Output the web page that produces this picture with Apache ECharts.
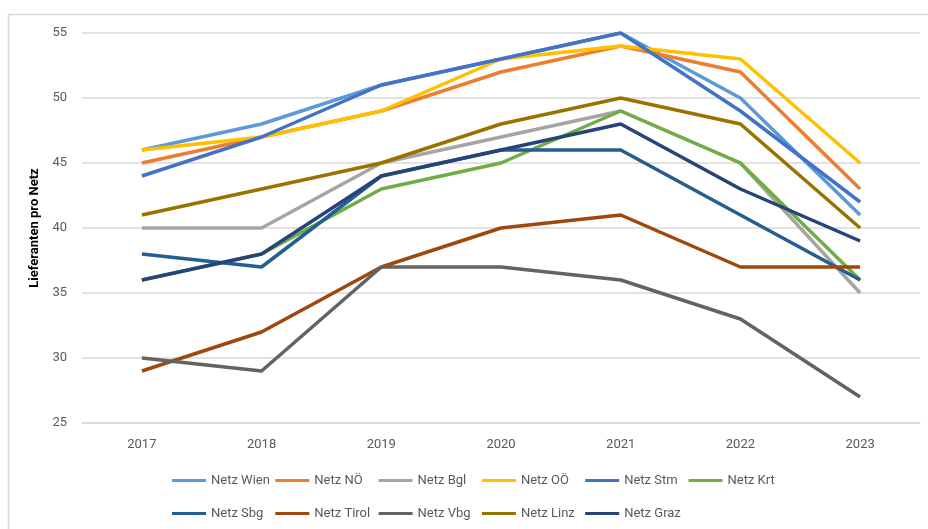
<!DOCTYPE html>
<html>
<head>
<meta charset="utf-8">
<script src="https://cdn.jsdelivr.net/npm/echarts@6/dist/echarts.min.js"></script>
<style>
  html, body { margin: 0; padding: 0; background: #fff; }
  #chart { width: 928px; height: 529px; }
</style>
</head>
<body>
<div id="chart"></div>
<script>
// Jahre
var years = ['2017', '2018', '2019', '2020', '2021', '2022', '2023']

// Lieferanten pro Netz
var netzWien  = [46, 48, 51, 53, 55, 50, 41]
var netzNoe   = [45, 47, 49, 52, 54, 52, 43]
var netzBgl   = [40, 40, 45, 47, 49, 45, 35]
var netzOoe   = [46, 47, 49, 53, 54, 53, 45]
var netzStm   = [44, 47, 51, 53, 55, 49, 42]
var netzKrt   = [36, 38, 43, 45, 49, 45, 36]
var netzSbg   = [38, 37, 44, 46, 46, 41, 36]
var netzTirol = [29, 32, 37, 40, 41, 37, 37]
var netzVbg   = [30, 29, 37, 37, 36, 33, 27]
var netzLinz  = [41, 43, 45, 48, 50, 48, 40]
var netzGraz  = [36, 38, 44, 46, 48, 43, 39]

var seriesNames = ['Netz Wien', 'Netz NÖ', 'Netz Bgl', 'Netz OÖ', 'Netz Stm', 'Netz Krt',
  'Netz Sbg', 'Netz Tirol', 'Netz Vbg', 'Netz Linz', 'Netz Graz']
var seriesData = [netzWien, netzNoe, netzBgl, netzOoe, netzStm, netzKrt,
  netzSbg, netzTirol, netzVbg, netzLinz, netzGraz]
var colors = ['#5B9BD5', '#ED7D31', '#A5A5A5', '#FFC000', '#4472C4', '#70AD47',
  '#255E91', '#9E480E', '#636363', '#997300', '#264478']

var font = 'Roboto, "Open Sans", sans-serif'

var chart = echarts.init(document.getElementById('chart'))

// one legend per item so the columns line up like in the original
var legends = seriesNames.map(function (name, i) {
  var col = i % 6
  var row = Math.floor(i / 6)
  return {
    left: 167 + col * 103.3,
    top: row === 0 ? 469 : 502,
    itemWidth: 34,
    itemHeight: 3,
    icon: 'rect',
    data: [name],
    textStyle: { color: '#595959', fontSize: 13, fontFamily: font }
  }
})

chart.setOption({
  color: colors,
  animation: false,
  graphic: [{
    type: 'rect',
    left: 6, top: 12,
    shape: { width: 960, height: 560 },
    style: { fill: 'none', stroke: '#d9d9d9', lineWidth: 1.5 },
    silent: true
  }],
  legend: legends,
  grid: {
    left: 82,
    right: 8,
    top: 33,
    bottom: 106
  },
  xAxis: {
    type: 'category',
    data: years,
    boundaryGap: true,
    axisTick: { show: false },
    axisLine: { lineStyle: { color: '#d9d9d9', width: 1.5 } },
    axisLabel: { color: '#595959', fontSize: 13, fontFamily: font, margin: 15 }
  },
  yAxis: {
    type: 'value',
    name: 'Lieferanten pro Netz',
    nameLocation: 'middle',
    nameGap: 40,
    nameTextStyle: { color: '#000', fontSize: 13, fontWeight: 'bold', fontFamily: font },
    min: 25,
    max: 55,
    interval: 5,
    axisLine: { show: false },
    axisTick: { show: false },
    axisLabel: { color: '#595959', fontSize: 13, fontFamily: font, margin: 15 },
    splitLine: { lineStyle: { color: '#d9d9d9', width: 1.5 } }
  },
  series: seriesNames.map(function (name, i) {
    return {
      name: name,
      type: 'line',
      data: seriesData[i],
      showSymbol: false,
      symbol: 'none',
      lineStyle: { width: 3.5 }
    }
  })
})
</script>
</body>
</html>
